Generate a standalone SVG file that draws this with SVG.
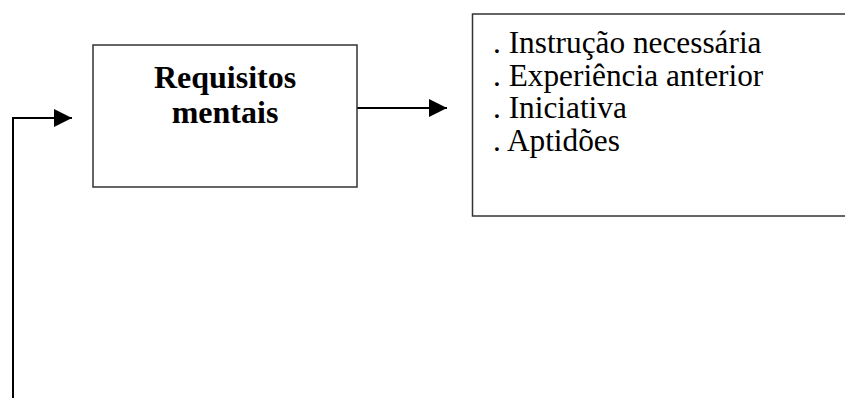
<svg xmlns="http://www.w3.org/2000/svg" width="845" height="398" viewBox="0 0 845 398">
<style>
.box{fill:#fff;stroke:#333;stroke-width:1.5}
.conn{fill:none;stroke:#000;stroke-width:2}
.t{font-family:"Liberation Serif","Times New Roman",serif;fill:#000}
.b{font-size:32px;font-weight:bold}
.n{font-size:31.3px}
</style>
<defs>
<marker id="ah" markerUnits="userSpaceOnUse" markerWidth="18" markerHeight="18" viewBox="0 0 17 17" refX="17" refY="8.5" orient="auto">
<path d="M0,0 L17,8.5 L0,17 Z" fill="#000"/>
</marker>
</defs>
<rect width="845" height="398" fill="#fff"/>
<g id="connectors">
<path class="conn" d="M13,398 L13,118 L72,118" marker-end="url(#ah)"/>
<path class="conn" d="M357,108 L447,108" marker-end="url(#ah)"/>
</g>
<g id="node-requisitos">
<rect class="box" x="93" y="45" width="264" height="142"/>
<text class="t b" x="225" y="88" text-anchor="middle">Requisitos</text>
<text class="t b" x="225" y="123" text-anchor="middle">mentais</text>
</g>
<g id="node-lista">
<rect class="box" x="472.5" y="14" width="380" height="202"/>
<text class="t n" x="493" y="53">. Instrução necessária</text>
<text class="t n" x="493" y="85.5">. Experiência anterior</text>
<text class="t n" x="493" y="118">. Iniciativa</text>
<text class="t n" x="493" y="150.5">. Aptidões</text>
</g>
</svg>
